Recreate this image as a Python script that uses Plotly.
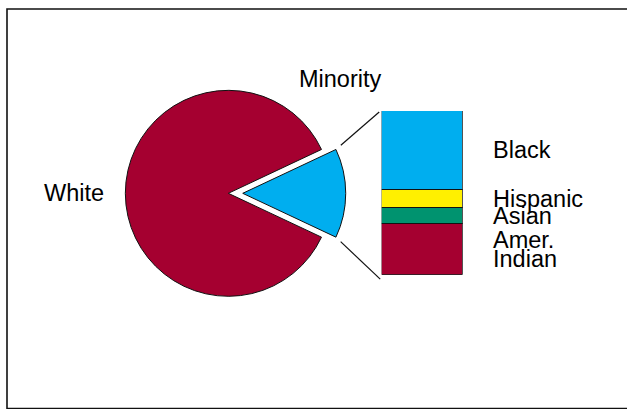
import math
import plotly.graph_objects as go

# Share of the population: white vs. minority (percent)
pie_labels = ["Minority", "White"]
pie_values = [14, 86]

# Breakdown of the minority share (percent of minority), bottom to top
group_labels = ["Amer. Indian", "Asian", "Hispanic", "Black"]
group_values = [31, 10, 11, 48]

W, H = 627, 409
CRIMSON = "#A50030"
BLUE = "#00AEEF"
YELLOW = "#FFF000"
GREEN = "#00936F"
FONT = "Liberation Sans, Arial, sans-serif"
FS = 23.5

pie_colors = [BLUE, CRIMSON]
group_colors = [CRIMSON, GREEN, YELLOW, BLUE]

pull = 0.14
pie_dom_x = [0.1769, 0.5514]
pie_dom_y = [0.2403, 0.8144]
bar_dom_x = [0.6088, 0.7380]
bar_dom_y = [0.3284, 0.7286]

fig = go.Figure()

minority_share = pie_values[0] / sum(pie_values)
fig.add_trace(go.Pie(
    labels=pie_labels,
    values=pie_values,
    sort=False,
    direction="clockwise",
    rotation=90 - minority_share * 180,
    pull=[pull, 0],
    marker=dict(colors=pie_colors, line=dict(color="#111111", width=1)),
    textinfo="none",
    domain=dict(x=pie_dom_x, y=pie_dom_y),
    showlegend=False,
))

for lab, val, col in zip(group_labels, group_values, group_colors):
    fig.add_trace(go.Bar(
        x=[0], y=[val], name=lab, width=1,
        marker=dict(color=col, line=dict(color="#111111", width=1)),
        showlegend=False, xaxis="x", yaxis="y",
    ))

# Labels beside each stacked segment, at the segment's midpoint
annotations = []
base = 0
for lab, val in zip(group_labels, group_values):
    mid = base + val / 2
    words = lab.split(" ")
    n = len(words)
    for i, w in enumerate(words):
        annotations.append(dict(
            text=w, xref="paper", yref="y", x=491 / W, y=mid,
            xanchor="left", yanchor="middle", showarrow=False,
            yshift=(n - 1) / 2 * 19.5 - i * 19.5,
            font=dict(family=FONT, size=FS, color="#000000"),
        ))
    base += val

annotations.append(dict(
    text="Minority", xref="paper", yref="paper", x=340 / W, y=1 - 79 / H,
    xanchor="center", yanchor="middle", showarrow=False,
    font=dict(family=FONT, size=FS, color="#000000"),
))
annotations.append(dict(
    text="White", xref="paper", yref="paper", x=74 / W, y=1 - 193 / H,
    xanchor="center", yanchor="middle", showarrow=False,
    font=dict(family=FONT, size=FS, color="#000000"),
))

# Connector lines from the pulled slice to the stacked bar
pw = (pie_dom_x[1] - pie_dom_x[0]) * W
ph = (pie_dom_y[1] - pie_dom_y[0]) * H
r = min(pw, ph) / (2 + 2 * pull)
cx = (pie_dom_x[0] + pie_dom_x[1]) / 2 * W
cy = H * (1 - (pie_dom_y[0] + pie_dom_y[1]) / 2)
apex = cx + pull * r
theta = minority_share * math.pi
bar_left = bar_dom_x[0] * W
bar_top = H * (1 - bar_dom_y[1])
bar_bot = H * (1 - bar_dom_y[0])

shapes = []
for sgn, target in ((-1, (bar_left - 2.5, bar_top + 1)), (1, (bar_left - 1.5, bar_bot + 4.5))):
    px = apex + r * math.cos(theta)
    py = cy + sgn * r * math.sin(theta)
    dx, dy = target[0] - px, target[1] - py
    d = math.hypot(dx, dy)
    sx, sy = px + dx / d * 6.5, py + dy / d * 6.5
    shapes.append(dict(
        type="line", xref="paper", yref="paper",
        x0=sx / W, y0=1 - sy / H, x1=target[0] / W, y1=1 - target[1] / H,
        line=dict(color="#111111", width=1.2),
    ))

# Frame around the chart (open past the right edge)
shapes.append(dict(
    type="rect", xref="paper", yref="paper",
    x0=7 / W, x1=1.05, y0=1 - 408.5 / H, y1=1 - 9 / H,
    line=dict(color="#111111", width=1.6), layer="below",
))

fig.update_layout(
    width=W, height=H,
    margin=dict(l=0, r=0, t=0, b=0),
    paper_bgcolor="white", plot_bgcolor="rgba(0,0,0,0)",
    barmode="stack", bargap=0,
    xaxis=dict(domain=bar_dom_x, range=[-0.5, 0.5], visible=False, fixedrange=True),
    yaxis=dict(domain=bar_dom_y, range=[0, 100], visible=False, fixedrange=True),
    annotations=annotations,
    shapes=shapes,
    font=dict(family=FONT),
)

fig.write_html("out.html")
